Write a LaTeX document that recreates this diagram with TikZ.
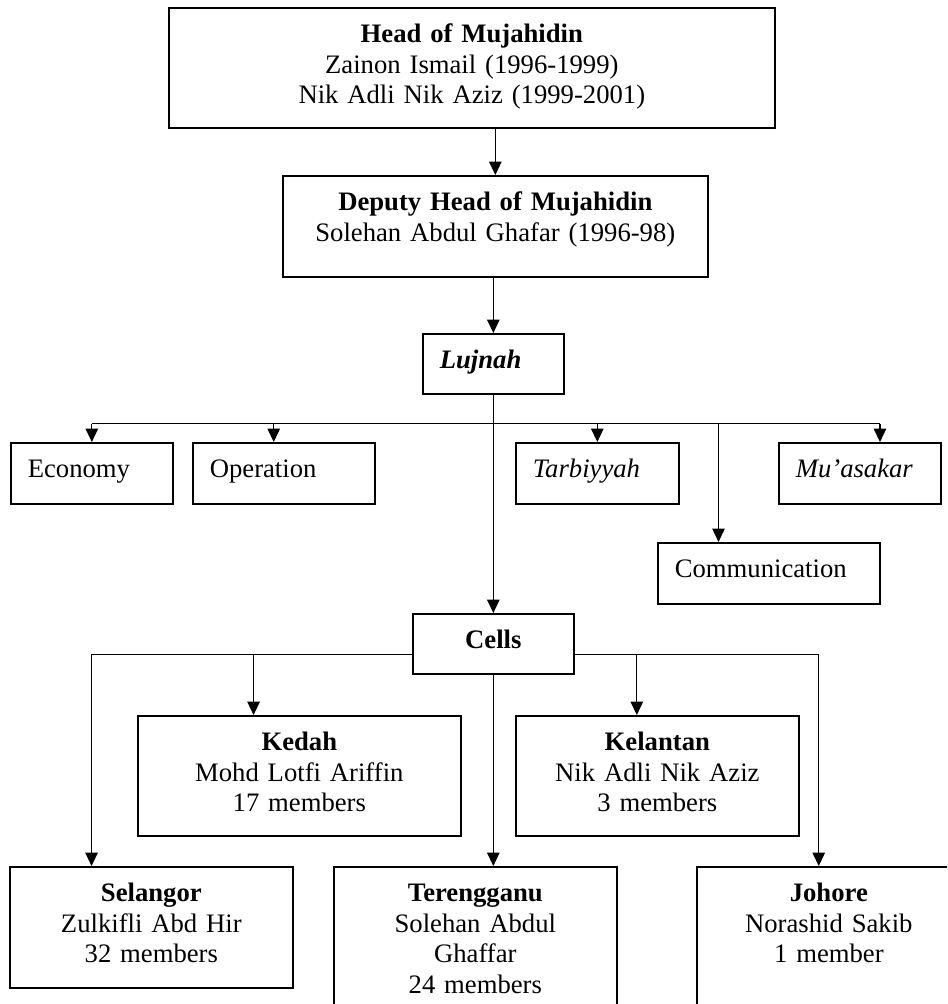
\documentclass[tikz,border=0pt]{standalone}
\usepackage{fontspec}
\setmainfont{Liberation Serif}
\usetikzlibrary{arrows.meta,calc}

\tikzset{
  orgbox/.style n args={3}{draw,line width=.75pt,anchor=north west,
    inner xsep=7.65pt,inner ysep=0pt,
    text width={(#1-34)*0.45pt},text height=15.6pt,text depth={#2*0.45pt-15.6pt},
    align=#3,font=\fontsize{12}{13.8}\selectfont},
  link/.style={line width=.5pt},
}

\begin{document}
\begin{tikzpicture}[>={Triangle[length=6pt,width=5.6pt]},x=0.45pt,y=-0.45pt]
  \useasboundingbox (0,0) rectangle (947,1004);
  \clip (0,0) rectangle (947,1004);

  % Leadership
  \node[orgbox={606}{120}{center}] (head) at (168,7)
    {\textbf{Head of Mujahidin}\\Zainon Ismail (1996-1999)\\Nik Adli Nik Aziz (1999-2001)};
  \node[orgbox={425}{101}{center}] (deputy) at (282,175)
    {\textbf{Deputy Head of Mujahidin}\\Solehan Abdul Ghafar (1996-98)};
  \node[orgbox={141}{60}{left}] (lujnah) at (422,333) {\textbf{\textit{Lujnah}}};

  % Lujnah sections
  \node[orgbox={162}{61}{left}] (economy) at (10,442) {Economy};
  \node[orgbox={182}{61}{left}] (operation) at (192,442) {Operation};
  \node[orgbox={163}{61}{left}] (tarbiyyah) at (515,442) {\textit{Tarbiyyah}};
  \node[orgbox={162}{61}{left}] (muasakar) at (778,442) {\textit{Mu’asakar}};
  \node[orgbox={222}{61}{left}] (communication) at (657,542) {Communication};

  % Cells by state
  \node[orgbox={161}{60}{center}] (cells) at (412,613) {\textbf{Cells}};
  \node[orgbox={323}{120}{center}] (kedah) at (137,715)
    {\textbf{Kedah}\\Mohd Lotfi Ariffin\\17 members};
  \node[orgbox={283}{120}{center}] (kelantan) at (515,715)
    {\textbf{Kelantan}\\Nik Adli Nik Aziz\\3 members};
  \node[orgbox={283}{121}{center}] (selangor) at (9,866)
    {\textbf{Selangor}\\Zulkifli Abd Hir\\32 members};
  \node[orgbox={283}{150}{center}] (terengganu) at (333,866)
    {\textbf{Terengganu}\\Solehan Abdul\\Ghaffar\\24 members};
  \node[orgbox={264}{150}{center}] (johore) at (696,866)
    {\textbf{Johore}\\Norashid Sakib\\1 member};

  % Arrow ends that sit off centre
  \coordinate (opdrop) at ($(operation.north west)!.445!(operation.north east)$);
  \coordinate (comdrop) at ($(communication.north west)!.275!(communication.north east)$);
  \coordinate (mudrop) at ($(muasakar.north west)!.623!(muasakar.north east)$);
  \coordinate (seldrop) at ($(selangor.north west)!.29!(selangor.north east)$);
  \coordinate (keddrop) at ($(kedah.north west)!.359!(kedah.north east)$);
  \coordinate (keldrop) at ($(kelantan.north west)!.428!(kelantan.north east)$);
  \coordinate (johdrop) at ($(johore.north west)!.462!(johore.north east)$);

  \draw[link,->] (head.south -| deputy.north) -- (deputy.north);
  \draw[link,->] (deputy.south -| lujnah.north) -- (lujnah.north);
  \draw[link,->] (lujnah.south) -- (cells.north);

  \coordinate (lbus) at ($(lujnah.south)+(0,29)$);
  \draw[link] (economy.north |- lbus) -- (mudrop |- lbus);
  \foreach \t in {economy.north,opdrop,tarbiyyah.north,comdrop,mudrop}
    \draw[link,->] (\t |- lbus) -- (\t);

  \coordinate (cbusL) at ($(cells.west)+(0,11)$);
  \coordinate (cbusR) at ($(cells.east)+(0,11)$);
  \draw[link,->] (cbusL) -| (seldrop);
  \draw[link,->] (cbusR) -| (johdrop);
  \draw[link,->] (keddrop |- cbusL) -- (keddrop);
  \draw[link,->] (keldrop |- cbusR) -- (keldrop);
  \draw[link,->] (cells.south) -- (cells.south |- terengganu.north);
\end{tikzpicture}
\end{document}
